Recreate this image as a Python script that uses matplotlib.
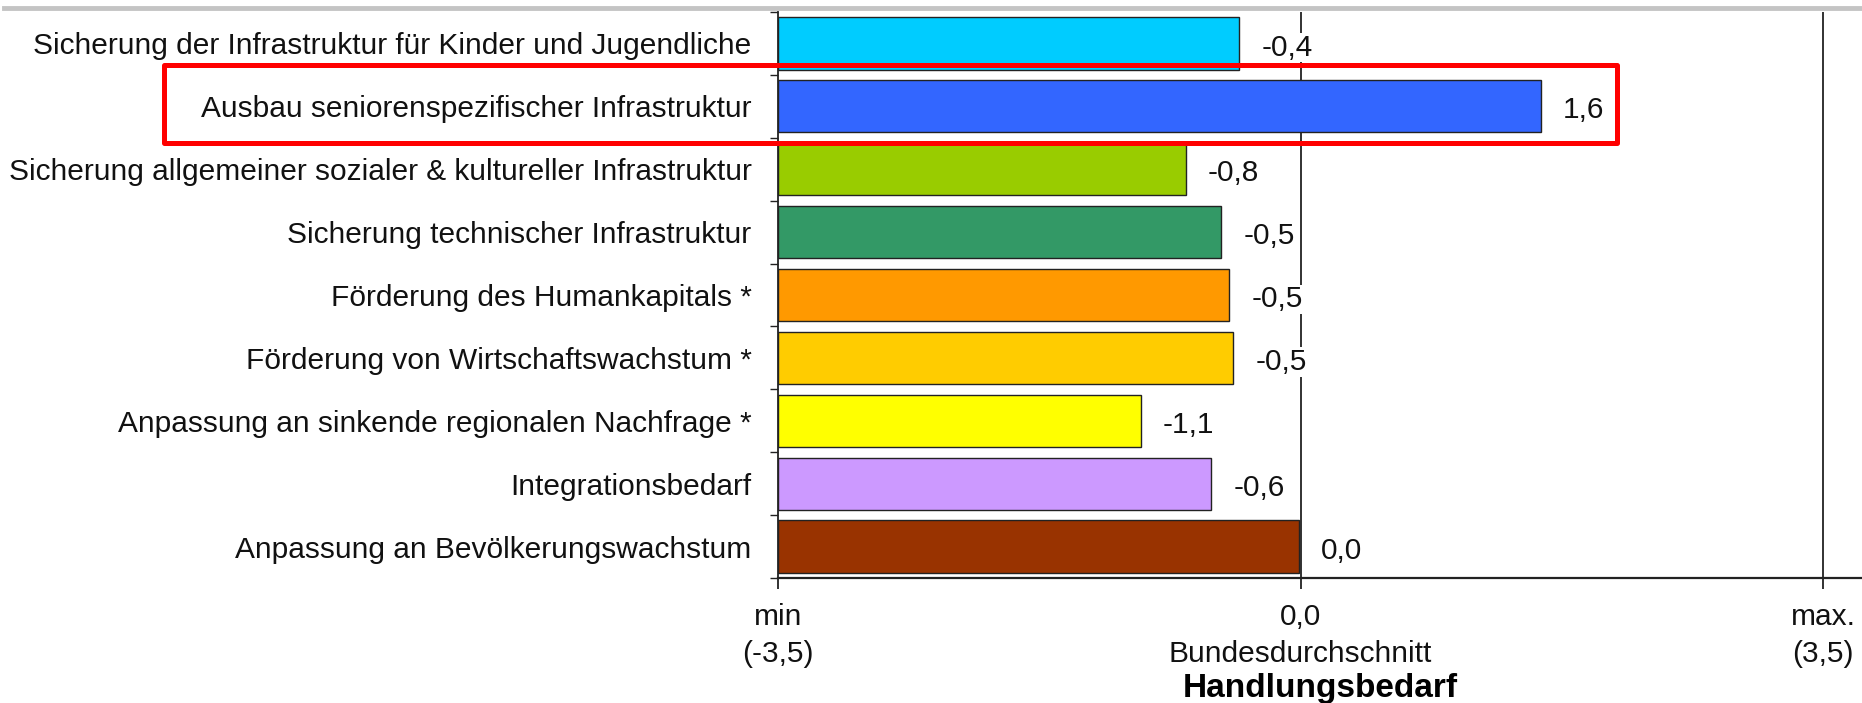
import matplotlib
matplotlib.use("Agg")
import matplotlib.pyplot as plt
from matplotlib.patches import Rectangle
from matplotlib.lines import Line2D

plt.rcParams['font.family'] = ['Liberation Sans', 'DejaVu Sans']

categories = [
    "Sicherung der Infrastruktur für Kinder und Jugendliche",
    "Ausbau seniorenspezifischer Infrastruktur",
    "Sicherung allgemeiner sozialer & kultureller Infrastruktur",
    "Sicherung technischer Infrastruktur",
    "Förderung des Humankapitals *",
    "Förderung von Wirtschaftswachstum *",
    "Anpassung an sinkende regionalen Nachfrage *",
    "Integrationsbedarf",
    "Anpassung an Bevölkerungswachstum",
]
values = [-0.41, 1.61, -0.77, -0.53, -0.48, -0.45, -1.07, -0.60, -0.01]
value_labels = ["-0,4", "1,6", "-0,8", "-0,5", "-0,5", "-0,5", "-1,1", "-0,6", "0,0"]
colors = ["#00CCFF", "#3366FF", "#99CC00", "#339966", "#FF9900",
          "#FFCC00", "#FFFF00", "#CC99FF", "#993300"]
xmin, xmax = -3.5, 3.5
xtick_pos = [-3.5, 0.0, 3.5]
xtick_labels = ["min\n(-3,5)", "0,0\nBundesdurchschnitt", "max.\n(3,5)"]
xlabel = "Handlungsbedarf"

W, H = 1862, 703
fig = plt.figure(figsize=(W / 100, H / 100), dpi=100)
ax = fig.add_axes([778 / W, (H - 578) / H, 1 - 778 / W, (578 - 12) / H])

ypos = list(range(len(categories)))
ax.barh(ypos, [v - xmin for v in values], left=xmin, height=0.83,
        color=colors, edgecolor="#222222", linewidth=1.0, zorder=3)

ax.set_xlim(xmin, 3.76)
ax.set_ylim(len(categories) - 0.5, -0.5)

ax.axvline(0, color="#222222", linewidth=1.3, zorder=1)
ax.axvline(xmax, color="#222222", linewidth=1.3, zorder=1)

for y, v, lab in zip(ypos, values, value_labels):
    ax.annotate(lab, xy=(v, y), xytext=(16, -3), textcoords="offset points",
                ha="left", va="center", fontsize=21.5, color="#111111", zorder=4,
                bbox=dict(facecolor="white", edgecolor="none", pad=0.5))

ax.set_yticks(ypos)
ax.set_yticklabels(categories, fontsize=21.5, color="#111111")
ax.set_yticks([i - 0.5 for i in range(len(categories) + 1)], minor=True)
ax.tick_params(axis="y", which="major", length=0, pad=19)
ax.tick_params(axis="y", which="minor", length=6, width=1.0, direction="out", color="#222222")

ax.set_xticks(xtick_pos)
ax.set_xticklabels(xtick_labels, fontsize=21.5, color="#111111", linespacing=1.4)
ax.tick_params(axis="x", which="major", length=8, width=1.3, direction="out",
               color="#222222", pad=10)
ax.set_xlabel(xlabel, fontsize=24, fontweight="bold", labelpad=4)

for s in ["top", "right"]:
    ax.spines[s].set_visible(False)
ax.spines["left"].set_linewidth(1.3)
ax.spines["bottom"].set_linewidth(1.6)
ax.spines["left"].set_color("#222222")
ax.spines["bottom"].set_color("#222222")

# top gray rule
fig.add_artist(Line2D([0.002, 1.0], [(H - 8) / H, (H - 8) / H], transform=fig.transFigure,
                      color="#C4C4C4", linewidth=3.5))

# red highlight box
fig.add_artist(Rectangle((164 / W, (H - 143) / H), (1617 - 164) / W, (143 - 65) / H,
                         transform=fig.transFigure, fill=False, edgecolor="#FF0000",
                         linewidth=3.6, joinstyle="round"))

fig.savefig("out.png", dpi=100)
